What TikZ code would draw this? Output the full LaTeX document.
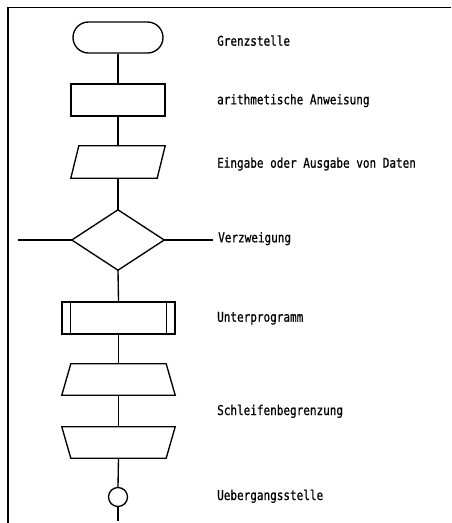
\documentclass[tikz,border=0pt]{standalone}
\usepackage{fontspec}
\newfontfamily\typewr[FakeStretch=0.815,FakeBold=0.7]{DejaVu Sans Mono}
\usetikzlibrary{shapes.misc}
\begin{document}
\begin{tikzpicture}[x=1pt,y=-1pt,
  ln/.style={line width=1.35pt},
  slot/.style={draw=none, inner sep=0pt, minimum width=#1, minimum height=32},
  termbox/.style={draw, ln, rounded rectangle, inner sep=0pt, minimum width=90, minimum height=31},
  rectbox/.style={draw, ln, rectangle, inner sep=0pt, minimum width=94, minimum height=32},
  connbox/.style={draw, ln, circle, inner sep=0pt, minimum size=19},
  lbl/.style={anchor=base west, inner sep=0pt, font=\typewr\fontsize{13.5}{15}\selectfont}
]
\useasboundingbox (0,0) rectangle (451,523);
% frame
\draw[line width=1.4pt] (451,7.5) -- (8,7.5) -- (8,523);

% symbols
\node[termbox] (term) at (118,37.5) {};
\node[rectbox] (rect) at (118,100) {};
\node[slot=94] (io) at (118,162) {};
\draw[ln, line join=miter] ([xshift=8]io.north west) -- (io.north east) -- ([xshift=-8]io.south east) -- (io.south west) -- cycle;
\node[slot=92, minimum height=60] (dia) at (118,240) {};
\draw[ln] (dia.north) -- (dia.east) -- (dia.south) -- (dia.west) -- cycle;
\node[rectbox, minimum width=113] (sub) at (118.5,318) {};
\draw[ln] ([xshift=9]sub.north west) -- ([xshift=9]sub.south west);
\draw[ln] ([xshift=-9]sub.north east) -- ([xshift=-9]sub.south east);
\node[slot=113, minimum height=31] (lpa) at (118.5,379.5) {};
\draw[ln] ([xshift=9]lpa.north west) -- ([xshift=-9]lpa.north east) -- (lpa.south east) -- (lpa.south west) -- cycle;
\node[slot=113, minimum height=31] (lpb) at (118.5,442.5) {};
\draw[ln] (lpb.north west) -- (lpb.north east) -- ([xshift=-9]lpb.south east) -- ([xshift=9]lpb.south west) -- cycle;
\node[connbox] (conn) at (118,497) {};
\coordinate (endpt) at (118,521);
\coordinate (brl) at (18,240);
\coordinate (brr) at (213,240);

% connectors
\draw[ln] (term.south) -- (rect.north);
\draw[ln] (rect.south) -- (io.north);
\draw[ln] (io.south) -- (dia.north);
\draw[ln] (dia.south) -- (sub.north);
\draw[ln] (sub.south) -- (lpa.north);
\draw[ln] (lpa.south) -- (lpb.north);
\draw[ln] (lpb.south) -- (conn.north);
\draw[ln] (conn.south) -- (endpt);
\draw[ln] (brl) -- (dia.west);
\draw[ln] (dia.east) -- (brr);

% labels
\node[lbl] (t1) at (217,45.7) {Grenzstelle};
\node[lbl] (t2) at (217,104.3) {arithmetische Anweisung};
\node[lbl] (t3) at (217,167.7) {Eingabe oder Ausgabe von Daten};
\node[lbl] (t4) at (218,242.3) {Verzweigung};
\node[lbl] (t5) at (217,321.7) {Unterprogramm};
\node[lbl] (t6) at (217,415) {Schleifenbegrenzung};
\node[lbl] (t7) at (217,500) {Uebergangsstelle};
\end{tikzpicture}
\end{document}
